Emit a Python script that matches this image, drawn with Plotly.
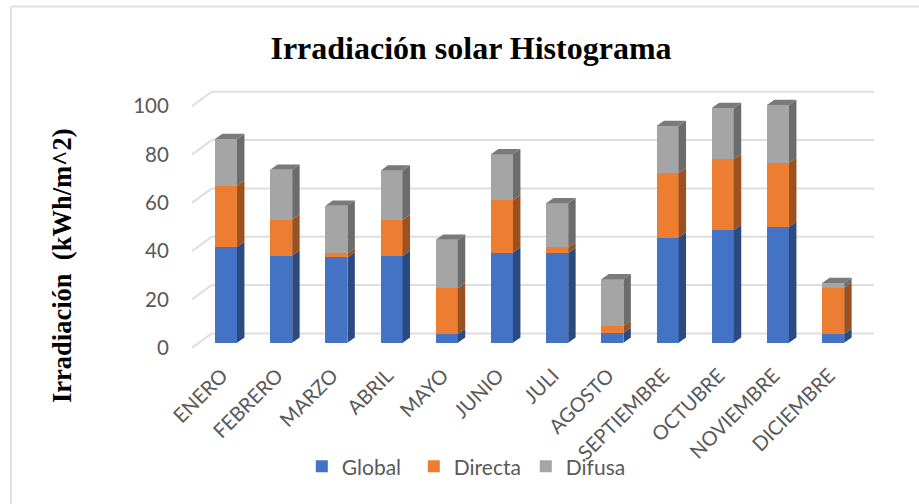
import plotly.graph_objects as go

MONTHS = ["ENERO", "FEBRERO", "MARZO", "ABRIL", "MAYO", "JUNIO", "JULI", "AGOSTO",
          "SEPTIEMBRE", "OCTUBRE", "NOVIEMBRE", "DICIEMBRE"]
GLOBAL = [39.6, 36.1, 35.3, 35.9, 3.6, 37.3, 37.1, 4.0, 43.5, 46.6, 48.0, 3.6]
DIRECTA = [25.4, 14.9, 1.7, 14.9, 19.0, 21.6, 2.4, 2.9, 26.7, 29.3, 26.5, 19.2]
DIFUSA = [19.3, 20.6, 19.7, 20.4, 20.0, 19.1, 18.2, 19.4, 19.5, 21.2, 23.9, 1.9]
Y_TICKS = [0, 20, 40, 60, 80, 100]

FRONT_COLORS = ["#4472C4", "#ED7D31", "#A5A5A5"]
SIDE_COLORS = ["#2B4B80", "#9B5120", "#6C6C6C"]
TOP_COLOR = "#7A7A7A"
GRID_COLOR = "#DEDEDE"
TEXT_COLOR = "#595959"

BAR_WIDTH = 0.4
# fake 3D depth, in axis units
BAR_DX, BAR_DY = 0.135, 2.2
WALL_X0, WALL_X1 = -0.615, -0.26
WALL_X_END = 11.74
FRONT_DY, BACK_DY = -2.1, 3.85

x_values = list(range(len(MONTHS)))
series = [("Global", GLOBAL), ("Directa", DIRECTA), ("Difusa", DIFUSA)]

fig = go.Figure()

bottoms = [0.0] * len(MONTHS)
for (name, values), front, side in zip(series, FRONT_COLORS, SIDE_COLORS):
    fig.add_trace(go.Bar(
        x=x_values, y=values, name=name, width=BAR_WIDTH,
        marker=dict(color=front, line=dict(width=0)),
    ))
    # right-hand face of each segment
    side_x, side_y = [], []
    for i, v in enumerate(values):
        right = i + BAR_WIDTH / 2
        lo, hi = bottoms[i], bottoms[i] + v
        side_x += [right, right + BAR_DX, right + BAR_DX, right, right, None]
        side_y += [lo, lo + BAR_DY, hi + BAR_DY, hi, lo, None]
        bottoms[i] = hi
    fig.add_trace(go.Scatter(
        x=side_x, y=side_y, mode="lines", fill="toself", fillcolor=side,
        line=dict(width=0, color=side), showlegend=False, hoverinfo="skip",
    ))

# top face of the stacks
top_x, top_y = [], []
for i, total in enumerate(bottoms):
    left, right = i - BAR_WIDTH / 2, i + BAR_WIDTH / 2
    top_x += [left, right, right + BAR_DX, left + BAR_DX, left, None]
    top_y += [total, total, total + BAR_DY, total + BAR_DY, total, None]
fig.add_trace(go.Scatter(
    x=top_x, y=top_y, mode="lines", fill="toself", fillcolor=TOP_COLOR,
    line=dict(width=0, color=TOP_COLOR), showlegend=False, hoverinfo="skip",
))

# floor diagonals and back wall lines
for tick in Y_TICKS:
    fig.add_shape(type="line", x0=WALL_X0, y0=tick + FRONT_DY, x1=WALL_X1, y1=tick + BACK_DY,
                  line=dict(color=GRID_COLOR, width=2), layer="below")
    fig.add_shape(type="line", x0=WALL_X1, y0=tick + BACK_DY, x1=WALL_X_END, y1=tick + BACK_DY,
                  line=dict(color=GRID_COLOR, width=2), layer="below")

# frame of the pasted chart: only left and top edges are in view
fig.add_shape(type="line", xref="paper", yref="paper", x0=-0.2654, y0=-0.59, x1=-0.2654, y1=1.316,
              line=dict(color="#E0E0E0", width=2), layer="below")
fig.add_shape(type="line", xref="paper", yref="paper", x0=-0.2654, y0=1.316, x1=1.0675, y1=1.316,
              line=dict(color="#E0E0E0", width=2), layer="below")

# y title sits lower than the plot centre, so an annotation instead of the axis title
fig.add_annotation(
    text="<b>Irradiación  (kWh/m^2)</b>", textangle=-90, showarrow=False,
    xref="paper", yref="paper", x=-0.1906, y=0.322, xanchor="center", yanchor="middle",
    font=dict(family="Liberation Serif", size=26.5, color="black"),
)

fig.update_layout(
    width=919, height=504,
    autosize=False,
    barmode="stack",
    paper_bgcolor="white",
    plot_bgcolor="white",
    margin=dict(l=192, r=45, t=89, b=154),
    font=dict(family="Lato", color=TEXT_COLOR),
    title=dict(
        text="<b>Irradiación solar Histograma</b>",
        font=dict(family="Liberation Serif", size=32, color="black"),
        x=471 / 919, xanchor="center", y=0.905, yanchor="middle",
    ),
    legend=dict(
        orientation="h", x=0.161, y=-0.447, xanchor="left", yanchor="middle",
        font=dict(size=21, color=TEXT_COLOR), bgcolor="rgba(0,0,0,0)",
        traceorder="normal", itemclick=False, entrywidth=67,
    ),
)
fig.update_xaxes(
    range=[-0.615, 11.74], tickmode="array", tickvals=x_values, ticktext=MONTHS,
    tickangle=-45, tickfont=dict(size=20, color=TEXT_COLOR), ticklabelshift=-4,
    showgrid=False, zeroline=False, showline=False,
    ticks="outside", ticklen=5, tickcolor="rgba(0,0,0,0)",
)
fig.update_yaxes(
    range=[-3, 105], tickmode="array", tickvals=Y_TICKS,
    tickfont=dict(size=20.5, color=TEXT_COLOR), ticklabelshift=5,
    showgrid=False, zeroline=False, showline=False,
    ticks="outside", ticklen=18, tickcolor="rgba(0,0,0,0)",
)

# the page's default body margin would push the chart off by 8px
fig.write_html("out.html", config=dict(displayModeBar=False),
               post_script="document.body.style.margin='0';")
